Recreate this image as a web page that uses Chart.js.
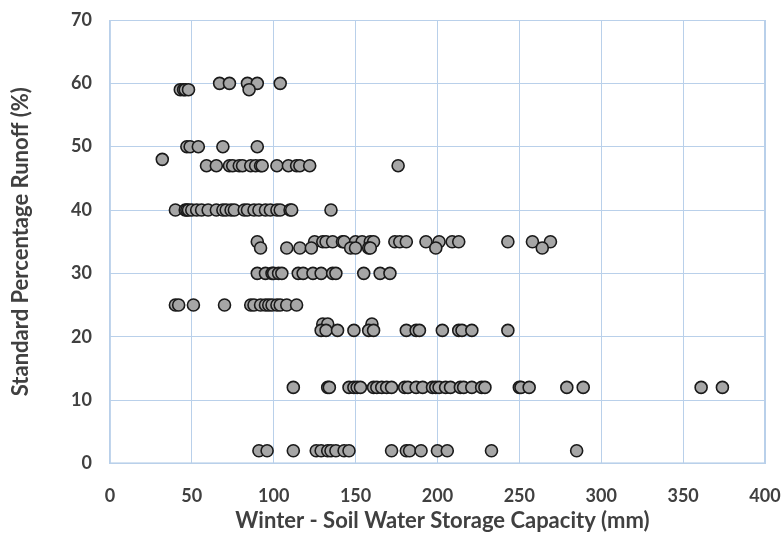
<!DOCTYPE html>
<html>
<head>
<meta charset="utf-8">
<script src="https://cdn.jsdelivr.net/npm/chart.js@4"></script>
<style>
  html, body { margin: 0; padding: 0; background: #ffffff; }
  #wrap { width: 783px; height: 533px; }
</style>
</head>
<body>
<div id="wrap"><canvas id="chart" width="783" height="533"></canvas></div>
<script>
// Winter soil water storage capacity (mm), grouped by standard percentage runoff (%)
const runoffLevels = [60, 59, 50, 48, 47, 40, 35, 34, 30, 25, 22, 21, 12, 2];
const storage60 = [67, 73, 84, 90, 104];
const storage59 = [43, 45, 46, 48, 85];
const storage50 = [47, 49, 54, 69, 90];
const storage48 = [32];
const storage47 = [59, 65, 73, 75, 79, 81, 86, 89, 92, 93, 102, 109, 114, 116, 122, 176];
const storage40 = [40, 46, 47, 48, 50, 53, 56, 60, 65, 69, 71, 74, 76, 82, 84, 88, 91, 95, 98, 102, 104, 110, 111, 135];
const storage35 = [90, 125, 130, 132, 136, 142, 143, 150, 154, 159, 161, 174, 177, 181, 193, 201, 209, 213, 243, 258, 269];
const storage34 = [92, 108, 116, 123, 147, 150, 158, 159, 199, 264];
const storage30 = [90, 95, 99, 100, 103, 105, 115, 118, 124, 129, 136, 138, 155, 165, 171];
const storage25 = [40, 42, 51, 70, 86, 88, 92, 95, 97, 99, 102, 104, 108, 114];
const storage22 = [130, 133, 160];
const storage21 = [129, 132, 139, 149, 158, 161, 181, 187, 189, 203, 213, 215, 221, 243];
const storage12 = [112, 133, 134, 146, 149, 151, 153, 161, 163, 166, 169, 172, 180, 182, 187, 191, 197, 199, 201, 205, 208, 214, 216, 221, 227, 229, 250, 251, 256, 279, 289, 361, 374];
const storage2 = [91, 96, 112, 126, 129, 133, 135, 138, 143, 146, 172, 181, 183, 190, 200, 206, 233, 285];

const storageByLevel = [storage60, storage59, storage50, storage48, storage47, storage40, storage35,
  storage34, storage30, storage25, storage22, storage21, storage12, storage2];

const xTicks = [0, 50, 100, 150, 200, 250, 300, 350, 400];
const yTicks = [0, 10, 20, 30, 40, 50, 60, 70];
const xTitle = 'Winter - Soil Water Storage Capacity (mm)';
const yTitle = 'Standard Percentage Runoff (%)';

const points = [];
runoffLevels.forEach((r, i) => {
  storageByLevel[i].forEach(s => points.push({ x: s, y: r }));
});

const gridBlue = '#b9d0ea';
const textGrey = '#404040';
const fontFamily = "'Lato', 'Liberation Sans', sans-serif";

// axis titles, drawn around the plot area
const titlePlugin = {
  id: 'axisTitles',
  afterDraw(chart) {
    const { ctx, chartArea: a } = chart;
    ctx.save();
    ctx.fillStyle = textGrey;
    ctx.font = `bold 22px ${fontFamily}`;
    ctx.textAlign = 'center';
    ctx.textBaseline = 'middle';
    ctx.fillText(xTitle, (a.left + a.right) / 2 + 5, 521);
    ctx.translate(21, (a.top + a.bottom) / 2);
    ctx.rotate(-Math.PI / 2);
    ctx.fillText(yTitle, 0, 0);
    ctx.restore();
  }
};

const framePlugin = {
  id: 'frame',
  afterDraw(chart) {
    const { ctx, chartArea: a } = chart;
    ctx.save();
    ctx.strokeStyle = gridBlue;
    ctx.lineWidth = 1;
    ctx.strokeRect(a.left + 0.5, a.top + 0.5, a.right - a.left - 1, a.bottom - a.top - 1);
    ctx.restore();
  }
};

new Chart(document.getElementById('chart'), {
  type: 'scatter',
  data: {
    datasets: [{
      data: points,
      backgroundColor: '#a6a6a6',
      borderColor: '#1a1a1a',
      borderWidth: 1.6,
      pointRadius: 6,
      pointHoverRadius: 6
    }]
  },
  options: {
    responsive: false,
    animation: false,
    events: [],
    layout: { padding: { top: 20, right: 18, bottom: 4, left: 53 } },
    plugins: { legend: { display: false }, tooltip: { enabled: false } },
    scales: {
      x: {
        type: 'linear',
        min: xTicks[0],
        max: xTicks[xTicks.length - 1],
        afterBuildTicks: axis => { axis.ticks = xTicks.map(v => ({ value: v })); },
        afterFit: axis => { axis.paddingLeft = 0; axis.paddingRight = 0; },
        grid: { color: gridBlue, lineWidth: 1, drawTicks: false },
        border: { color: gridBlue, width: 1 },
        ticks: { color: textGrey, padding: 22, font: { family: fontFamily, size: 18, weight: 'bold' } }
      },
      y: {
        type: 'linear',
        min: yTicks[0],
        max: yTicks[yTicks.length - 1],
        afterBuildTicks: axis => { axis.ticks = yTicks.map(v => ({ value: v })); },
        afterFit: axis => { axis.paddingTop = 0; axis.paddingBottom = 0; },
        grid: { color: gridBlue, lineWidth: 1, drawTicks: false },
        border: { color: gridBlue, width: 1 },
        ticks: { color: textGrey, padding: 18, font: { family: fontFamily, size: 18, weight: 'bold' } }
      }
    }
  },
  plugins: [titlePlugin, framePlugin]
});
</script>
</body>
</html>
